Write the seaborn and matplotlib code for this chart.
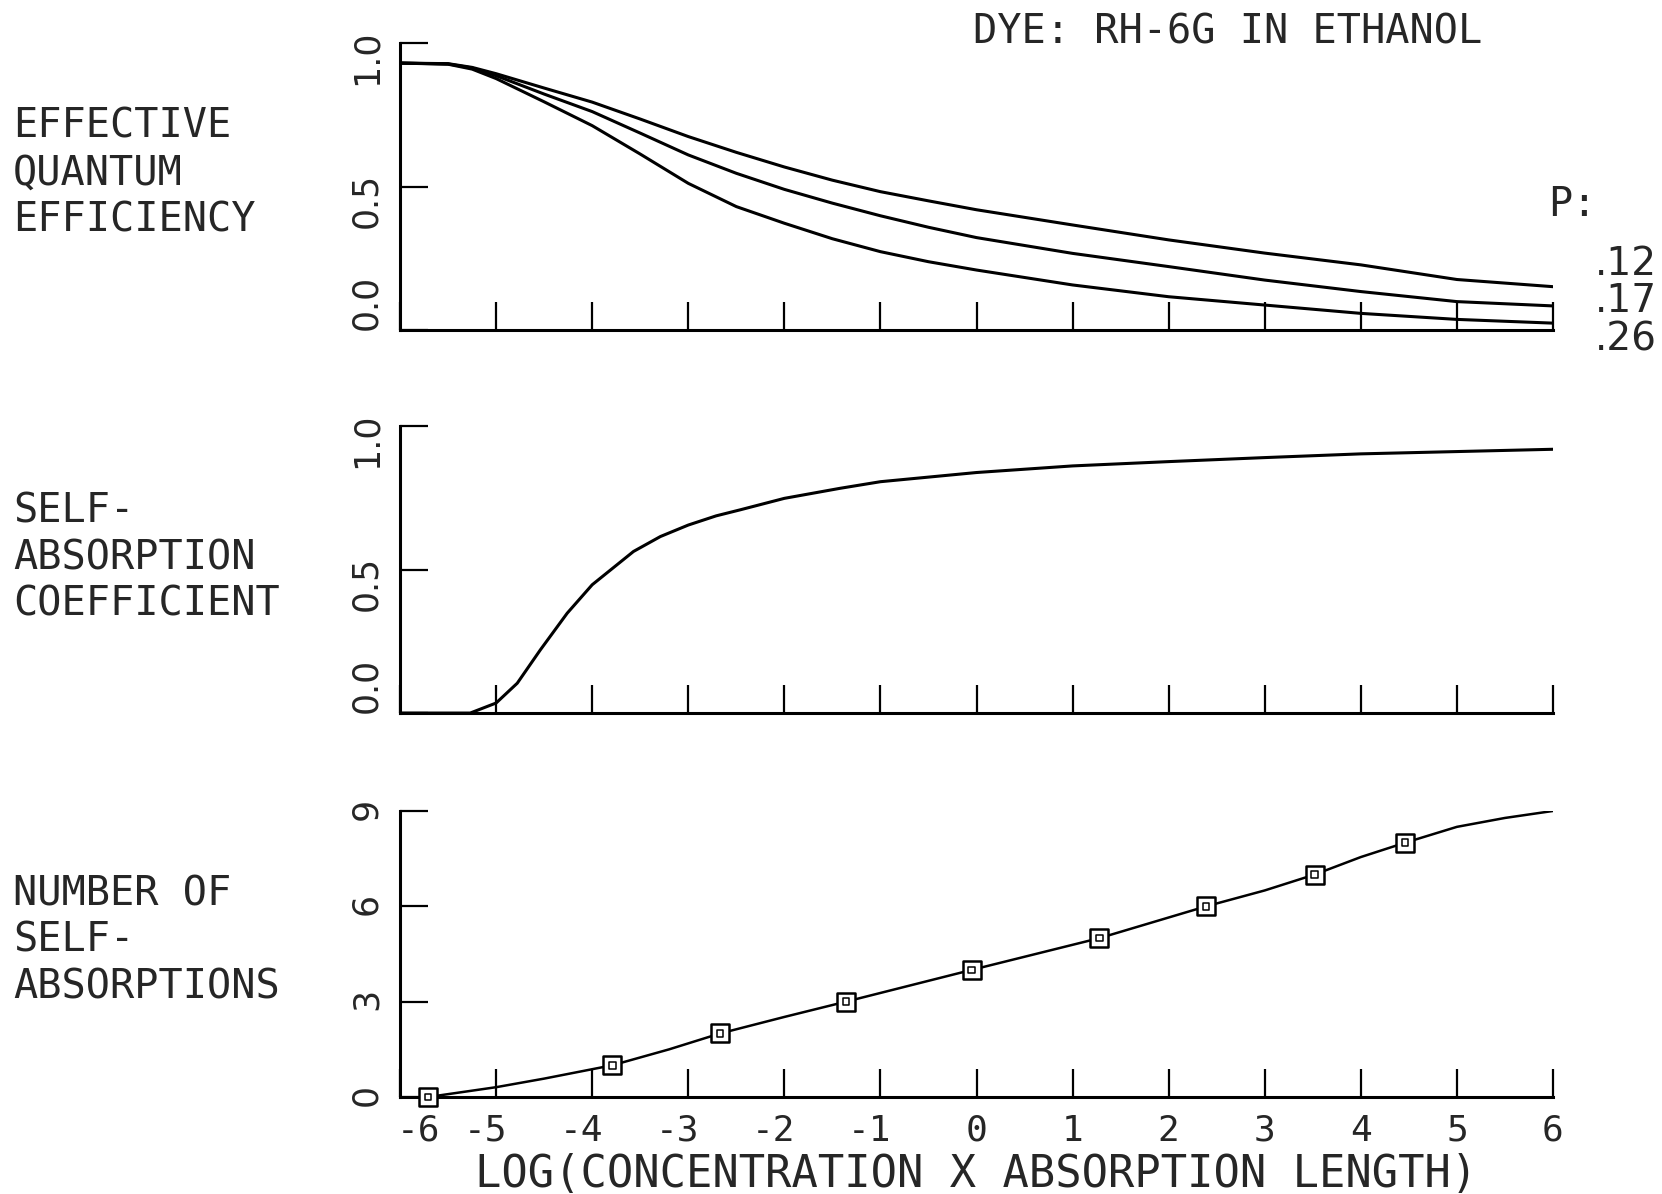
import pandas as pd
import seaborn as sns
import matplotlib.pyplot as plt
from matplotlib.transforms import ScaledTranslation

# effective quantum efficiency, one curve per P value
qe_x = [-6, -5.5, -5.25, -5, -4.5, -4, -3.5, -3, -2.5, -2, -1.5, -1, -0.5, 0, 1, 2, 3, 4, 5, 6]
qe_p12 = [0.93, 0.928, 0.915, 0.893, 0.843, 0.794, 0.735, 0.674, 0.619, 0.568, 0.522, 0.482, 0.45, 0.419, 0.366, 0.314, 0.268, 0.227, 0.176, 0.151]
qe_p17 = [0.93, 0.927, 0.913, 0.886, 0.822, 0.761, 0.686, 0.610, 0.546, 0.490, 0.442, 0.398, 0.358, 0.322, 0.267, 0.221, 0.174, 0.134, 0.099, 0.084]
qe_p26 = [0.93, 0.926, 0.909, 0.876, 0.795, 0.712, 0.613, 0.511, 0.430, 0.372, 0.318, 0.273, 0.238, 0.209, 0.157, 0.116, 0.087, 0.058, 0.037, 0.024]
p_labels = ['.12', '.17', '.26']

# self-absorption coefficient
sa_x = [-6, -5.27, -5, -4.78, -4.54, -4.26, -4, -3.57, -3.29, -3, -2.71, -2.46, -2, -1.42, -1, 0, 1, 2, 3, 4, 5, 6]
sa_y = [0, 0, 0.035, 0.104, 0.22, 0.348, 0.447, 0.563, 0.615, 0.655, 0.687, 0.708, 0.748, 0.783, 0.806, 0.838, 0.861, 0.876, 0.89, 0.903, 0.911, 0.919]

# number of self-absorptions
ns_x = [-5.71, -5.0, -4.5, -3.79, -3.2, -2.67, -2.0, -1.36, -0.05, 1.28, 2.39, 3.0, 3.52, 4.0, 4.46, 5.0, 5.5, 6.0]
ns_y = [0, 0.31, 0.58, 1.0, 1.5, 2.0, 2.52, 3.0, 4.0, 5.0, 6.0, 6.5, 7.0, 7.55, 8.0, 8.5, 8.78, 9.0]
mark_x = [-5.71, -3.79, -2.67, -1.36, -0.05, 1.28, 2.39, 3.52, 4.46]
mark_y = [0, 1, 2, 3, 4, 5, 6, 7, 8]

x_ticks = list(range(-6, 7))
frac_ticks = [0.0, 0.5, 1.0]
frac_labels = ['0.0', '0.5', '1.0']
ns_ticks = [0, 3, 6, 9]

sns.set_theme(style='white')
plt.rcParams['font.family'] = ['DejaVu Sans Mono', 'DejaVu Sans']
plt.rcParams['axes.unicode_minus'] = False

fig = plt.figure(figsize=(16.62, 11.94), dpi=100)
left, width = 0.2407, 0.6937
ax1 = fig.add_axes([left, 0.7236, width, 0.2404])
ax2 = fig.add_axes([left, 0.4028, width, 0.2404])
ax3 = fig.add_axes([left, 0.0812, width, 0.2396])

df_qe = pd.DataFrame({
    'x': qe_x * 3,
    'y': qe_p12 + qe_p17 + qe_p26,
    'P': [p_labels[0]] * len(qe_x) + [p_labels[1]] * len(qe_x) + [p_labels[2]] * len(qe_x),
})
sns.lineplot(data=df_qe, x='x', y='y', hue='P', palette=['black'] * 3,
             estimator=None, linewidth=2.2, legend=False, ax=ax1)
sns.lineplot(x=sa_x, y=sa_y, color='black', linewidth=2.2, estimator=None, ax=ax2)
sns.lineplot(x=ns_x, y=ns_y, color='black', linewidth=1.8, estimator=None, ax=ax3)
sns.scatterplot(x=mark_x, y=mark_y, marker='s', s=150, facecolor='white',
                edgecolor='black', linewidth=1.8, clip_on=False, zorder=4, ax=ax3)
# small inner box of the plotter symbol
sns.scatterplot(x=mark_x, y=mark_y, marker='s', s=22, facecolor='none',
                edgecolor='black', linewidth=1.1, clip_on=False, zorder=5, ax=ax3)

for ax in (ax1, ax2, ax3):
    ax.set_xlim(-6, 6)
    ax.set_xticks(x_ticks)
    ax.set_xlabel('')
    ax.set_ylabel('')
    ax.spines['top'].set_visible(False)
    ax.spines['right'].set_visible(False)
    for s in ('left', 'bottom'):
        ax.spines[s].set_linewidth(2.2)
        ax.spines[s].set_color('black')
    ax.tick_params(direction='in', length=20, width=1.6, color='black',
                   bottom=True, left=True)
    ax.tick_params(axis='y', labelrotation=90, labelsize=25, pad=12,
                   labelfontfamily='DejaVu Sans')

for ax in (ax1, ax2):
    ax.set_ylim(0, 1)
    ax.set_yticks(frac_ticks)
    ax.set_yticklabels(frac_labels)
    ax.set_xticklabels([])
    # the plotter kept the 0.0 label above the axis line
    ax.get_yticklabels()[0].set_va('bottom')

ax3.set_ylim(0, 9)
ax3.set_yticks(ns_ticks)
ax3.set_xticklabels([str(v) for v in x_ticks])
ax3.tick_params(axis='x', labelsize=26, pad=12)
# put the digit (not the minus) under the tick, like the plotter did
for v, lab in zip(x_ticks, ax3.get_xticklabels()):
    if v == -6:
        shift = 0.18
    elif v < 0:
        shift = -0.105
    else:
        shift = 0
    lab.set_transform(lab.get_transform() + ScaledTranslation(shift, 0, fig.dpi_scale_trans))
ax3.set_xlabel('LOG(CONCENTRATION X ABSORPTION LENGTH)', fontsize=31.5, labelpad=4)

fig.text(0.0078, 1 - 173.5 / 1194, 'EFFECTIVE\nQUANTUM\nEFFICIENCY',
         ha='left', va='center', fontsize=29, linespacing=1.22)
fig.text(0.0078, 1 - 558 / 1194, 'SELF-\nABSORPTION\nCOEFFICIENT',
         ha='left', va='center', fontsize=29, linespacing=1.22)
fig.text(0.0078, 1 - 941 / 1194, 'NUMBER OF\nSELF-\nABSORPTIONS',
         ha='left', va='center', fontsize=29, linespacing=1.22)

fig.text(973 / 1662, 1 - 33 / 1194, 'DYE: RH-6G IN ETHANOL',
         ha='left', va='center', fontsize=29)
fig.text(1548 / 1662, 1 - 205 / 1194, 'P:', ha='left', va='center', fontsize=29)
for i, lab in enumerate(p_labels):
    fig.text(1595 / 1662, 1 - (264 + 37.5 * i) / 1194, lab, ha='left', va='center',
             fontsize=28, family='DejaVu Sans')

fig.savefig('out.png', dpi=100, facecolor='white')
